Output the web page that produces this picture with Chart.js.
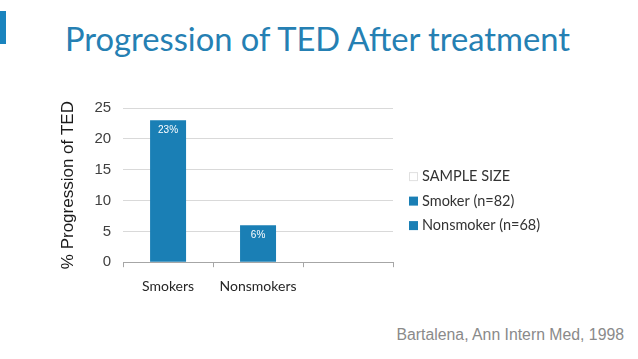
<!DOCTYPE html>
<html>
<head>
<meta charset="utf-8">
<script src="https://cdn.jsdelivr.net/npm/chart.js@4.4.0/dist/chart.umd.min.js"></script>
<style>
  html, body { margin: 0; padding: 0; background: #fff; }
  body { width: 638px; height: 359px; position: relative; overflow: hidden; }
  .mark { position: absolute; left: 0; top: 11px; width: 6px; height: 33px; background: #1a84be; }
  h1 {
    position: absolute; left: 65px; top: 19px; margin: 0;
    font: 32.7px Lato, "Open Sans", sans-serif; color: #2580b3; font-weight: normal;
    white-space: nowrap;
  }
  .wrap { position: absolute; left: 0; top: 87px; width: 638px; height: 219px; }
  .source {
    position: absolute; right: 14px; top: 326px;
    font: 15.8px "Liberation Sans", Arial, sans-serif; color: #8a8a8a;
  }
</style>
</head>
<body>
<div class="mark"></div>
<h1>Progression of TED After treatment</h1>
<div class="wrap"><canvas id="chart"></canvas></div>
<div class="source">Bartalena, Ann Intern Med, 1998</div>

<script>
const categories = ['Smokers', 'Nonsmokers', ''];
const values = [23, 6, null];
const barLabels = ['23%', '6%', ''];
const yTicks = [0, 5, 10, 15, 20, 25];
const legendLabels = ['SAMPLE SIZE', 'Smoker (n=82)', 'Nonsmoker (n=68)'];
const legendColors = ['#ffffff', '#1a7fb5', '#1a7fb5'];

const blue = '#1a7fb5';

// white value labels inside the top of each bar
const barText = {
    id: 'barText',
    afterDatasetsDraw(chart) {
        const ctx = chart.ctx;
        const meta = chart.getDatasetMeta(0);
        ctx.save();
        ctx.fillStyle = '#ffffff';
        ctx.font = '10px "Liberation Sans", Arial, sans-serif';
        ctx.textAlign = 'center';
        ctx.textBaseline = 'middle';
        meta.data.forEach((bar, i) => {
            if (values[i] == null) return;
            ctx.fillText(barLabels[i], bar.x, bar.y + 10);
        });
        ctx.restore();
    }
};

// legend drawn to the right of the plot
const sideLegend = {
    id: 'sideLegend',
    afterDraw(chart) {
        const ctx = chart.ctx;
        const area = chart.chartArea;
        const x = area.right + 16;
        const mid = (area.top + area.bottom) / 2 + 16;
        ctx.save();
        ctx.font = '14.5px Lato, "Open Sans", sans-serif';
        ctx.textBaseline = 'middle';
        legendLabels.forEach((label, i) => {
            const y = mid + (i - 1) * 24.5;
            ctx.fillStyle = legendColors[i];
            ctx.fillRect(x, y - 4.5, 9, 9);
            if (legendColors[i] === '#ffffff') {
                ctx.strokeStyle = '#e0e0e0';
                ctx.lineWidth = 1;
                ctx.strokeRect(x + 0.5, y - 4, 8, 8);
            }
            ctx.fillStyle = '#333333';
            ctx.fillText(label, x + 13, y);
        });
        ctx.restore();
    }
};

new Chart(document.querySelector('#chart'), {
    type: 'bar',
    data: {
        labels: categories,
        datasets: [{
            label: 'Progression',
            data: values,
            backgroundColor: blue,
            barPercentage: 0.5,
            categoryPercentage: 0.8
        }]
    },
    options: {
        responsive: true,
        maintainAspectRatio: false,
        animation: false,
        layout: { padding: { left: 58, right: 245, top: 6, bottom: 0 } },
        plugins: {
            legend: { display: false },
            tooltip: { enabled: false }
        },
        scales: {
            x: {
                grid: {
                    display: true,
                    drawOnChartArea: false,
                    drawTicks: true,
                    tickLength: 5,
                    color: '#a6a6a6'
                },
                border: { display: true, color: '#a6a6a6' },
                ticks: {
                    color: '#262626',
                    padding: 11,
                    font: { family: 'Lato, "Open Sans", sans-serif', size: 14 }
                }
            },
            y: {
                min: 0,
                max: 25,
                afterBuildTicks(axis) {
                    axis.ticks = yTicks.map(v => ({ value: v }));
                },
                grid: { color: '#d9d9d9', drawTicks: false },
                border: { display: false },
                ticks: {
                    color: '#404040',
                    padding: 12,
                    font: { family: '"Liberation Sans", Arial, sans-serif', size: 15 }
                },
                title: {
                    display: true,
                    text: '% Progression of TED',
                    color: '#1a1a1a',
                    padding: { top: 0, bottom: 4 },
                    font: { family: '"Liberation Sans", Arial, sans-serif', size: 17 }
                }
            }
        }
    },
    plugins: [barText, sideLegend]
});
</script>
</body>
</html>
